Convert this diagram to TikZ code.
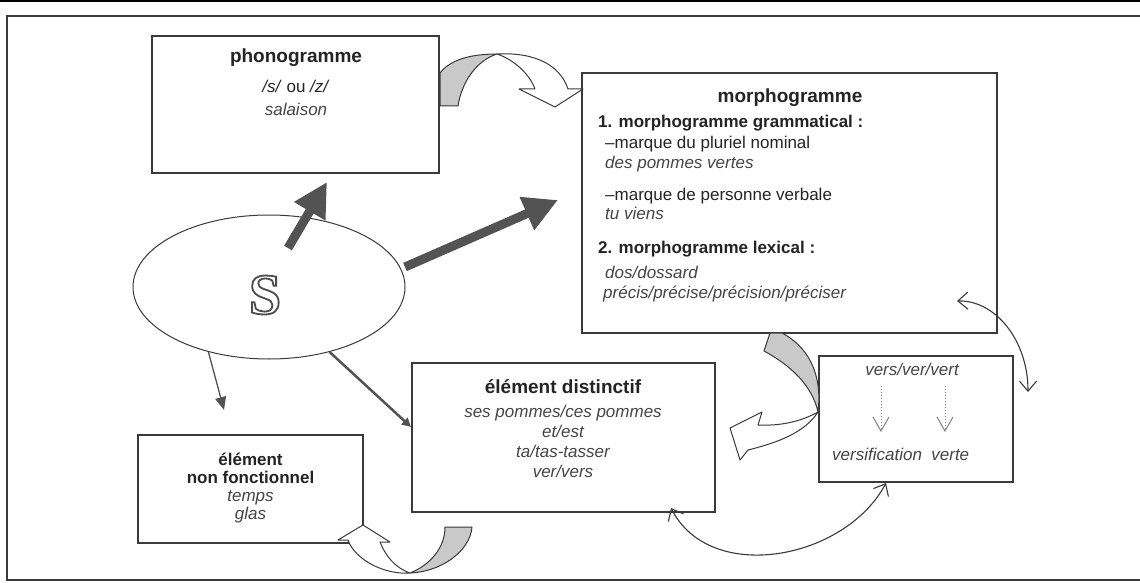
\documentclass[tikz,border=0pt]{standalone}
\usepackage{fontspec}
\setmainfont{Liberation Sans}
\newfontfamily\lettrefont{Liberation Serif}
\usetikzlibrary{arrows.meta,positioning,shapes.geometric,calc}
\definecolor{trait}{HTML}{3A3A3A}
\definecolor{fleche}{HTML}{535353}
\definecolor{gristrame}{HTML}{C9C9C9}
\definecolor{encre}{HTML}{242424}
\newcommand\contourS[1]{\special{pdf:literal direct 2 Tr 1.8 w 0.3 G}#1\special{pdf:literal direct 0 Tr}}
\tikzset{
    %Define standard arrow tip
    >={Straight Barb[length=10pt,width=17pt]},
    %Define style for boxes
    cadre/.style={
           rectangle,
           draw=trait, line width=1.2pt,
           fill=white,
           inner sep=0pt},
    %Define styles for texts
    titre/.style={font=\fontsize{19}{22}\selectfont\bfseries, text=encre, inner sep=0pt, anchor=base},
    gras/.style={font=\fontsize{17}{20}\selectfont\bfseries, text=encre, inner sep=0pt, anchor=base},
    droit/.style={font=\fontsize{17}{20}\selectfont, text=encre, inner sep=0pt, anchor=base},
    ital/.style={font=\fontsize{17}{20}\selectfont\itshape, text=encre!85, inner sep=0pt, anchor=base},
    lettre/.style={font=\fontsize{58}{58}\selectfont\lettrefont\bfseries, inner sep=0pt},
    % Define arrow styles
    epaisse/.style={
           -{Triangle[length=34pt,width=34pt]},
           draw=fleche, line width=9pt},
    moyenne/.style={
           -{Triangle[length=9pt,width=9pt]},
           draw=fleche, line width=2.5pt},
    fine/.style={
           -{Triangle[length=13pt,width=11pt]},
           draw=fleche, line width=1.3pt},
    both/.style={
           <->,
           draw=trait, line width=1.1pt},
    induced/.style={
           dotted,
           -{Straight Barb[length=14pt,width=16pt]},
           draw=gray, line width=1pt},
    % Define ribbon styles
    dos/.style={fill=gristrame, draw=trait, line width=1pt, line join=round},
    face/.style={fill=white, draw=trait, line width=1pt, line join=round},
}

\begin{document}
\begin{tikzpicture}[x=1pt, y=-1pt]
    \useasboundingbox (0,0) rectangle (1140,583);
 %frame
    \draw[line width=2pt, black] (0,1) -- (1140,1);
    \draw[line width=1.6pt, draw=trait] (1140,16) -- (7,16) -- (7,580) -- (1140,580);
 %nodes
    \node[cadre, minimum width=287pt, minimum height=137pt] (phono) at (295.5,104.5) {};
    \node[cadre, minimum width=415pt, minimum height=260pt] (morpho) at (789.5,203) {};
    \node[cadre, minimum width=225pt, minimum height=108pt] (nonfonct) at (250.5,489) {};
    \node[cadre, minimum width=303pt, minimum height=149pt] (distinct) at (563.5,437.5) {};
    \node[cadre, minimum width=194pt, minimum height=126pt] (vers) at (916,419) {};
    \node[ellipse, draw=trait, line width=1pt, fill=white, minimum width=272pt,
          minimum height=144pt, inner sep=0pt] (S) at (269,287) {};
 %texts
    \node[titre] (phonotitre) at (296,63) {phonogramme};
    \node[droit] (phonoson) at (296,93) {\textit{/s/} ou \textit{/z/}};
    \node[ital] (phonoex) at (296,116) {salaison};

    \node[titre] (morphotitre) at (790,103) {morphogramme};
    \node[gras, anchor=base west] (gram) at (598,128) {1. morphogramme grammatical :};
    \node[droit, anchor=base west] (plur) at (605,148) {–marque du pluriel nominal};
    \node[ital, anchor=base west] (plurex) at (605,168) {des pommes vertes};
    \node[droit, anchor=base west] (pers) at (605,200) {–marque de personne verbale};
    \node[ital, anchor=base west] (persex) at (605,219) {tu viens};
    \node[gras, anchor=base west] (lex) at (598,253) {2. morphogramme lexical :};
    \node[ital, anchor=base west] (lexex) at (605,278) {dos/dossard};
    \node[ital, anchor=base west] (lexprec) at (603,298) {précis/précise/précision/préciser};

    \node[gras] (nfa) at (250.5,465) {élément};
    \node[gras] (nfb) at (250.5,483) {non fonctionnel};
    \node[ital] (nfc) at (250.5,501) {temps};
    \node[ital] (nfd) at (250.5,519) {glas};

    \node[titre] (disttitre) at (563,393) {élément distinctif};
    \node[ital] (dista) at (563,417) {ses pommes/ces pommes};
    \node[ital] (distb) at (563,437) {et/est};
    \node[ital] (distc) at (563,457) {ta/tas-tasser};
    \node[ital] (distd) at (563,477) {ver/vers};

    \node[ital] (versmots) at (912,375) {vers/ver/vert};
    \node[ital, anchor=base west] (verssens) at (832,460) {versification\ \ verte};
 %letter S
    \node[lettre, text=white] (lettreS) at (265,295) {\contourS{S}};
 %free ends
    \coordinate (phonobas) at (327,182);
    \coordinate (Shaut) at (288,248);
    \coordinate (Sdroite) at (405,267);
    \coordinate (morphogauche) at (558,200);
    \coordinate (nfhaut) at (224,410);
    \coordinate (distgauche) at (411,427);
    \coordinate (lexpt) at (957,301);
    \coordinate (versdroite) at (1028,392);
    \coordinate (versbas) at (886,483);
    \coordinate (distbas) at (671,508);
    \coordinate (versa) at (881,386);
    \coordinate (versb) at (881,432);
    \coordinate (verta) at (945,386);
    \coordinate (vertb) at (945,432);
 %edges
    \draw[epaisse] (Shaut) -- (phonobas);
    \draw[epaisse] (Sdroite) -- (morphogauche);
    \draw[fine] (S.227) -- (nfhaut);
    \draw[moyenne] (S.313) -- (distgauche);
    \draw[both] (lexpt) .. controls (995,300) and (1028,340) .. (versdroite);
    \draw[both] (versbas) .. controls (845,560) and (710,585) .. (distbas);
    \draw[induced] (versa) -- (versb);
    \draw[induced] (verta) -- (vertb);
 %ribbons
    \draw[dos] (440,73) .. controls (450,60) and (470,54) .. (497,54)
        .. controls (478,60) and (462,80) .. (458,106) -- (440,106) -- cycle;
    \draw[face] (497,54) .. controls (535,52) and (560,65) .. (568,89) -- (583,89)
        -- (555,107) -- (519,89) -- (535,89) .. controls (530,75) and (515,60) .. (497,54) -- cycle;
    \draw[dos] (770,333) -- (782,333) .. controls (805,345) and (823,370) .. (818,412)
        .. controls (812,385) and (790,365) .. (764,351) -- cycle;
    \draw[face] (818,412) .. controls (800,422) and (780,426) .. (758,425) -- (762,412)
        -- (730,428) -- (740,460) -- (748,450) .. controls (780,442) and (805,432) .. (818,412) -- cycle;
    \draw[dos] (445,527) -- (472,527) .. controls (470,552) and (440,572) .. (410,573)
        .. controls (430,565) and (445,548) .. (445,527) -- cycle;
    \draw[face] (410,573) .. controls (385,575) and (355,560) .. (348,540) -- (338,540)
        -- (363,525) -- (390,542) -- (380,542) .. controls (385,555) and (395,568) .. (410,573) -- cycle;
\end{tikzpicture}
\end{document}
